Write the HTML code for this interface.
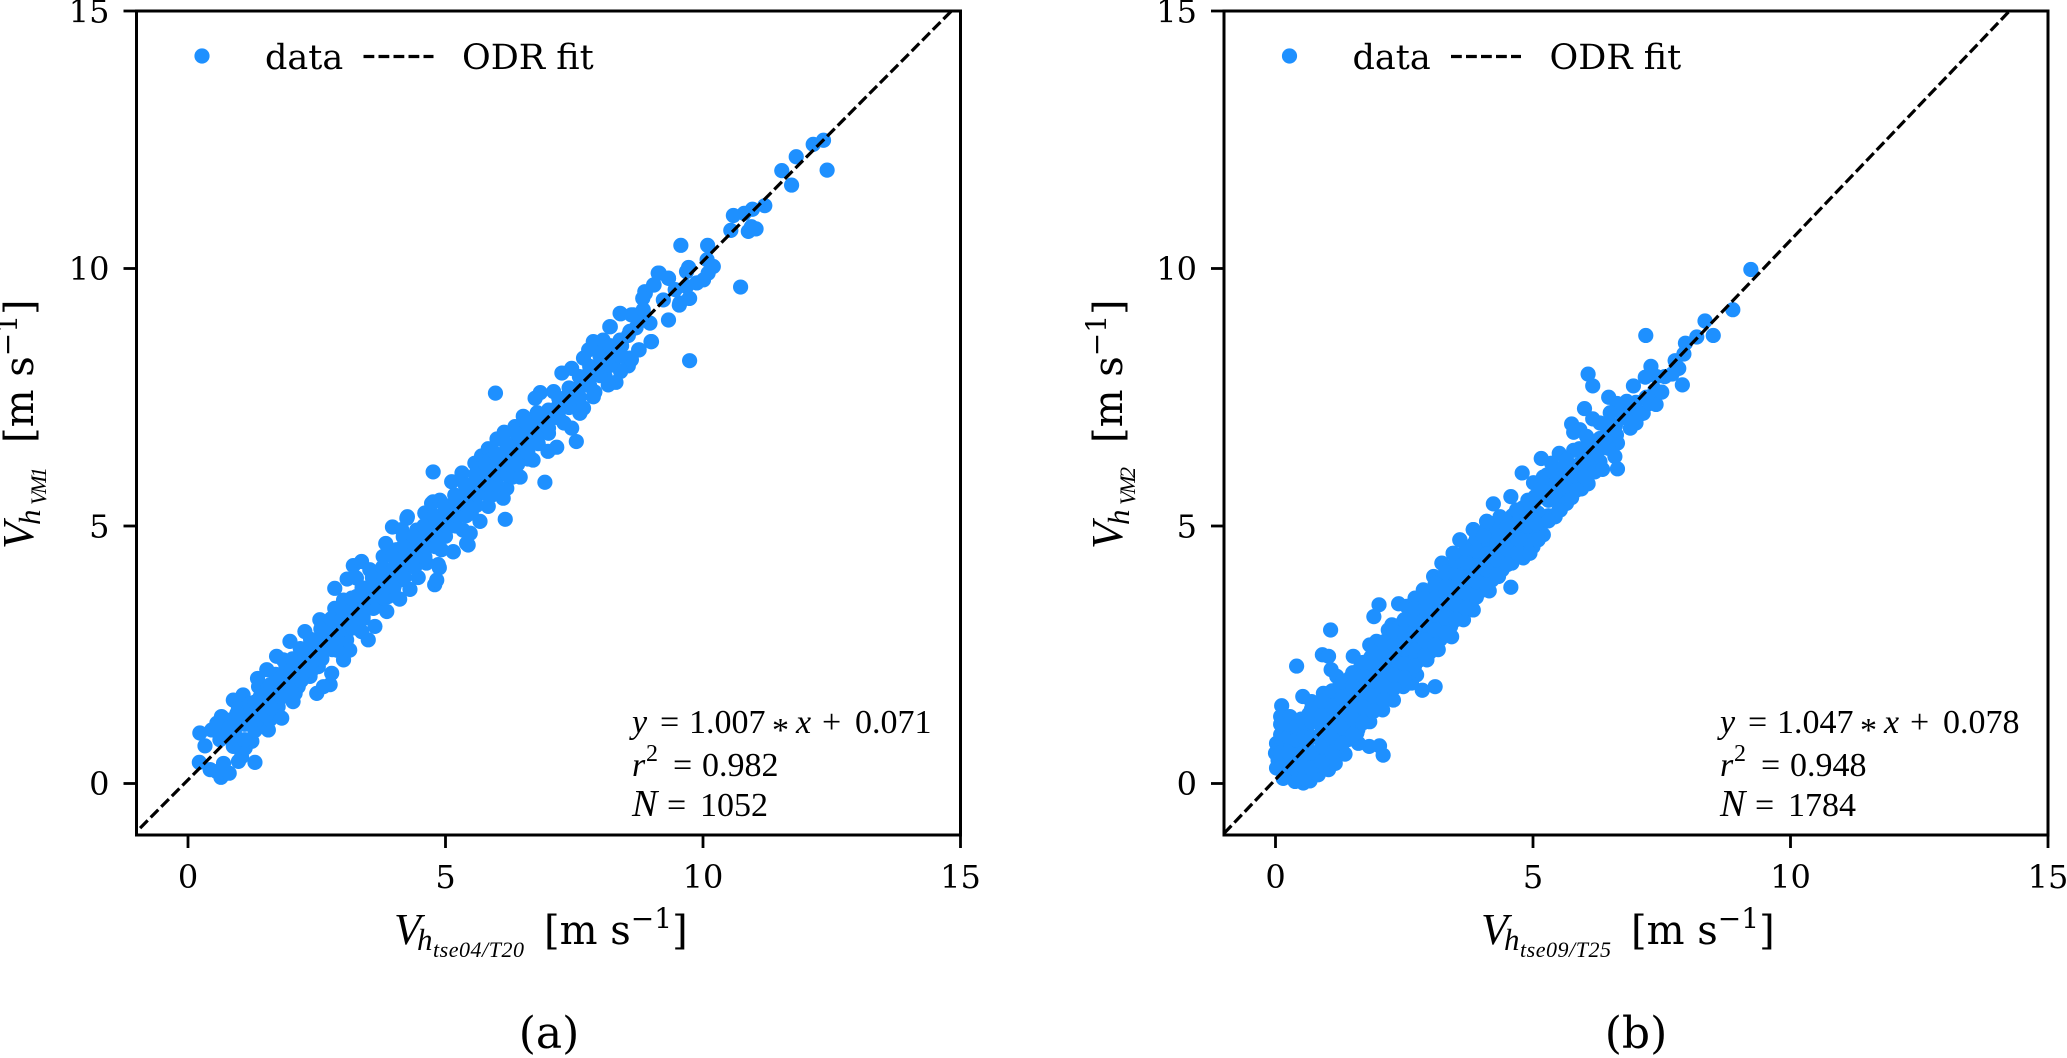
<!DOCTYPE html>
<html lang="en">
<head>
<meta charset="utf-8">
<title>ODR fit scatter comparison</title>
<style>
html,body{margin:0;padding:0;background:#fff;width:2067px;height:1058px;overflow:hidden}
svg{display:block}
text{fill:#000}
.dj{font-family:"DejaVu Serif",serif}
.ms{font-family:"Liberation Serif",serif}
.i{font-style:italic}
</style>
</head>
<body>
<svg id="chart" width="2067" height="1058" viewBox="0 0 2067 1058" xmlns="http://www.w3.org/2000/svg">
<defs>
<clipPath id="clip-a"><rect x="136.5" y="11" width="824" height="824"/></clipPath>
<clipPath id="clip-b"><rect x="1224" y="11" width="824" height="824"/></clipPath>
</defs>
<g id="panel-a"></g>
<g id="panel-b"></g>

<g>
<text class="ms i" x="394" y="944" font-size="44">V</text>
<text class="ms i" x="417" y="950" font-size="31">h</text>
<text class="ms i" x="433" y="957" font-size="22" textLength="91">tse04/T20</text>
<text class="dj" x="544" y="944" font-size="40">[m s<tspan font-size="28" dy="-16">−1</tspan><tspan dy="16">]</tspan></text>
</g>
<g>
<text class="ms i" x="1481" y="944" font-size="44">V</text>
<text class="ms i" x="1504" y="950" font-size="31">h</text>
<text class="ms i" x="1520" y="957" font-size="22" textLength="91">tse09/T25</text>
<text class="dj" x="1631" y="944" font-size="40">[m s<tspan font-size="28" dy="-16">−1</tspan><tspan dy="16">]</tspan></text>
</g>
<g transform="translate(33,0) rotate(-90)">
<text class="ms i" x="-549" y="0" font-size="44">V</text>
<text class="ms i" x="-525" y="7" font-size="31">h</text>
<text class="ms i" x="-505" y="13" font-size="22" textLength="38">VM1</text>
<text class="dj" x="-443" y="0" font-size="40">[m s<tspan font-size="28" dy="-16">−1</tspan><tspan dy="16">]</tspan></text>
</g>
<g transform="translate(1122,0) rotate(-90)">
<text class="ms i" x="-549" y="0" font-size="44">V</text>
<text class="ms i" x="-525" y="7" font-size="31">h</text>
<text class="ms i" x="-505" y="13" font-size="22" textLength="38">VM2</text>
<text class="dj" x="-443" y="0" font-size="40">[m s<tspan font-size="28" dy="-16">−1</tspan><tspan dy="16">]</tspan></text>
</g>

<g>
<circle cx="202" cy="56" r="7.6" fill="#1e90ff"/>
<text class="dj" x="265" y="69" font-size="35">data</text>
<line x1="363.5" x2="433.5" y1="56.5" y2="56.5" stroke="#000" stroke-width="3.2" stroke-dasharray="10.8 4.2"/>
<text class="dj" x="462" y="69" font-size="35">ODR fit</text>
</g>
<g>
<circle cx="1289.5" cy="56" r="7.6" fill="#1e90ff"/>
<text class="dj" x="1352.5" y="69" font-size="35">data</text>
<line x1="1451" x2="1521" y1="56.5" y2="56.5" stroke="#000" stroke-width="3.2" stroke-dasharray="10.8 4.2"/>
<text class="dj" x="1549.5" y="69" font-size="35">ODR fit</text>
</g>

<g class="ms" font-size="34">
<text y="733"><tspan class="i" x="632">y</tspan><tspan x="660">=</tspan><tspan x="689">1.007</tspan><tspan x="772" dy="8">*</tspan><tspan class="i" x="796" dy="-8">x</tspan><tspan x="822">+</tspan><tspan x="855">0.071</tspan></text>
<text y="776"><tspan class="i" x="632">r</tspan><tspan x="646" font-size="24" dy="-15">2</tspan><tspan x="673" dy="15">=</tspan><tspan x="702">0.982</tspan></text>
<text y="816"><tspan class="i" x="632" font-size="38">N</tspan><tspan x="667">=</tspan><tspan x="700">1052</tspan></text>
</g>
<g class="ms" font-size="34">
<text y="733"><tspan class="i" x="1720">y</tspan><tspan x="1748">=</tspan><tspan x="1777">1.047</tspan><tspan x="1860" dy="8">*</tspan><tspan class="i" x="1884" dy="-8">x</tspan><tspan x="1910">+</tspan><tspan x="1943">0.078</tspan></text>
<text y="776"><tspan class="i" x="1720">r</tspan><tspan x="1734" font-size="24" dy="-15">2</tspan><tspan x="1761" dy="15">=</tspan><tspan x="1790">0.948</tspan></text>
<text y="816"><tspan class="i" x="1720" font-size="38">N</tspan><tspan x="1755">=</tspan><tspan x="1788">1784</tspan></text>
</g>

<text class="dj" x="549" y="1048" font-size="44" text-anchor="middle">(a)</text>
<text class="dj" x="1636" y="1048" font-size="44" text-anchor="middle">(b)</text>
</svg>
<script>
const xTicks = [0, 5, 10, 15];
const yTicks = [0, 5, 10, 15];
const axisMin = -1;
const axisMax = 15;
const fitA = { slope: 1.007, intercept: 0.071, from: -0.93 };
const fitB = { slope: 1.047, intercept: 0.078, from: -1 };

const panelAPoints = [
[.23,.98],[.33,.73],[.22,.41],[.43,.27],[.56,.23],[.64,.12],[.80,.20],[.69,.39],[.98,.43],[1.30,.41],[1.04,.52],[1.11,.69],[.88,.72],[1.24,.82],[.46,1.04],[.65,1.30],[.56,1.17],[.88,1.62],[1.07,1.72],[.98,1.46],[.85,1.24],[1.04,1.30],[1.20,1.37],[1.40,1.11],[1.56,1.04],[1.59,1.24],[1.82,1.27],[1.75,1.49],[1.37,1.88],[1.53,2.21],[1.35,2.04],[1.46,1.62],[1.62,1.69],[1.79,1.85],[2.04,1.59],[2.08,1.75],[1.85,2.40],[1.98,2.76],[1.72,2.47],[1.88,2.14],[2.14,1.88],[2.27,2.95],[2.21,2.59],[2.50,1.75],[2.76,1.92],[2.63,1.88],[2.79,2.14],[2.53,2.27],[2.43,2.47],[2.37,2.08],[3.02,2.40],[3.14,2.59],[3.08,2.79],[2.89,2.59],[2.56,3.18],[2.72,2.92],[2.85,3.40],[2.85,3.79],[3.09,3.97],[3.02,3.56],[3.14,3.31],[3.27,3.63],[3.50,2.79],[3.37,2.95],[3.63,3.05],[3.40,3.24],[3.66,3.44],[3.86,3.34],[3.89,3.63],[3.53,3.82],[3.27,3.99],[3.21,4.23],[3.37,4.31],[3.53,4.15],[3.79,4.41],[3.84,4.66],[4.05,4.54],[3.86,4.02],[4.11,4.28],[4.11,3.95],[4.31,3.77],[4.11,3.58],[3.99,3.77],[4.47,4.00],[4.79,3.86],[4.83,3.95],[4.88,4.19],[4.63,4.28],[4.37,4.34],[4.18,4.79],[3.97,4.98],[4.26,5.18],[4.44,4.92],[4.34,4.60],[4.70,4.73],[4.60,5.25],[4.76,5.47],[5.02,5.38],[5.15,4.50],[4.92,4.54],[5.41,4.66],[5.34,4.92],[5.09,5.05],
[.62,.85],[.75,.95],[.9,1.0],[1.1,1.15],[1.2,1.55],[1.35,1.5],[1.5,1.5],[1.55,1.85],[1.7,1.95],[1.9,2.0],[2.0,2.2],[2.15,2.3],[2.3,2.4],[2.45,2.65],[2.6,2.8],[2.75,2.75],[2.9,3.0],[3.05,3.15],[3.2,3.35],[3.35,3.5],[3.5,3.55],[3.65,3.75],[3.8,3.9],[3.95,4.1],[4.1,4.2],[4.25,4.35],[4.4,4.5],[4.55,4.65],[4.7,5.0],[4.85,4.95],[5.0,5.1],[5.2,5.3],[5.35,5.45],
[4.25,5.15],[4.15,4.93],[4.60,5.25],[4.73,5.44],[4.89,5.50],[4.76,6.05],[5.12,5.86],[5.32,6.03],[5.57,6.22],[5.70,6.36],[5.83,6.50],[6.00,6.69],[6.14,6.82],[6.35,6.93],[6.51,7.13],[6.74,7.48],[6.84,7.59],[5.97,7.58],[7.10,7.61],[7.26,7.97],[7.45,8.06],[7.68,8.26],[7.78,8.42],[7.87,8.58],[8.20,8.87],[8.39,9.13],[8.61,9.10],[8.88,9.52],[9.04,9.68],[9.13,9.91],[9.33,9.81],[9.33,9.00],[9.00,8.58],[9.74,8.21],[8.75,8.42],[8.55,8.11],[8.58,8.26],[8.26,8.13],[8.31,7.79],[8.16,7.74],[7.87,7.51],[7.68,7.29],[7.61,7.19],[7.45,6.90],[7.54,6.64],[7.16,6.53],[6.99,6.45],[6.93,5.85],[6.70,6.28],[6.45,5.95],[6.19,5.73],[6.12,5.54],[5.83,5.38],[5.67,5.09],[6.16,5.13],[5.44,4.63],[5.15,4.50],[4.86,4.25],[5.48,4.86],[9.55,9.33],[9.74,9.42],[9.88,9.72],[9.68,9.94],
[4.5,4.7],[4.8,5.0],[5.0,5.1],[5.1,5.3],[5.25,5.4],[5.4,5.5],[5.55,5.7],[5.7,5.75],[5.85,6.0],[6.0,6.15],[6.15,6.3],[6.3,6.45],[6.45,6.6],[6.6,6.75],[6.75,6.85],[6.9,7.1],[7.05,7.2],[7.2,7.35],[7.35,7.5],[7.5,7.65],[7.65,7.75],[7.8,8.0],[7.95,8.1],[8.05,8.4],[8.1,8.2],[8.25,8.35],[8.4,8.55],[8.55,8.7],[8.7,8.85],[8.85,9.0],[5.4,5.8],[5.6,5.95],[5.9,6.3],[6.2,6.55],[6.5,6.8],[6.8,7.0],[5.1,5.0],[5.5,5.25],[5.9,5.6],[6.3,5.95],[6.6,6.3],[7.0,6.8],[7.3,7.0],[7.6,7.35],[7.9,7.6],[8.1,7.9],[8.4,8.0],
[12.34,12.49],[12.14,12.41],[11.81,12.17],[11.53,11.90],[11.72,11.62],[12.41,11.91],[11.20,11.22],[10.96,11.15],[10.80,11.07],[10.59,11.03],[10.54,10.74],[10.88,10.72],[10.94,10.81],[11.03,10.77],[9.57,10.45],[10.09,10.45],[10.08,10.17],[9.72,10.02],[10.20,10.04],[10.10,9.91],[10.01,9.78],[9.88,9.72],[9.68,9.65],[10.73,9.64],[9.73,9.42],[9.54,9.29],[9.15,9.91],[9.33,9.81],[9.05,9.68],[8.87,9.55],[8.83,9.42],[9.46,9.59],[9.23,9.39],[8.97,8.94],[8.65,9.10],[8.40,9.12],[8.84,9.20],[8.99,8.58],[8.76,8.42],[8.61,8.23],[8.19,8.87],[8.06,8.61],[8.39,8.61],[8.58,8.78],[8.29,8.42],[8.13,8.29],
[.7,.92],[.8,1.08],[.95,.86],[1.0,1.16],[1.1,.85],[.95,1.36],[1.22,1.2],[1.3,1.03],[1.32,1.25],[1.3,1.58],[1.42,1.41],[1.4,1.68],[1.52,1.32],[1.5,1.72],[1.62,1.46],[1.6,1.92],[1.7,1.58],[1.72,1.76],[1.7,2.12],[1.82,1.68],[1.8,2.05],[1.92,1.76],[1.9,2.3],[1.93,1.94],
[2.0,1.8],[2.02,2.02],[2.0,2.2],[2.03,2.42],[2.2,2.0],[2.22,2.2],[2.2,2.42],[2.18,2.62],[2.4,2.2],[2.42,2.38],[2.4,2.6],[2.38,2.8],[2.6,2.42],[2.62,2.6],[2.6,2.82],[2.58,3.0],[2.8,2.6],[2.82,2.8],[2.8,3.02],[2.78,3.2],[3.0,2.82],[3.02,3.0],[3.0,3.2],[2.98,3.42],[3.2,3.02],[3.22,3.2],[3.2,3.42],[3.18,3.6],[3.4,3.2],[3.42,3.4],[3.4,3.62],[3.38,3.8],[3.6,3.4],[3.62,3.6],[3.6,3.8],[3.58,4.0],[3.8,3.6],[3.82,3.8],[3.8,4.02],[3.78,4.2],[4.0,3.82],[4.02,4.0],[4.0,4.2],[3.98,4.42],[4.2,4.0],[4.22,4.22],[4.2,4.4],[4.18,4.6],[4.4,4.2],[4.42,4.4],[4.4,4.62],[4.38,4.8],[4.6,4.4],[4.62,4.6],[4.6,4.82],[4.58,5.0],[4.8,4.6],[4.82,4.8],[4.8,5.02],[4.78,5.2],[5.0,4.8],[5.02,5.0],[5.0,5.2],[4.98,5.4],[5.2,5.0],[5.22,5.2],[5.2,5.42],[5.18,5.6],[5.4,5.2],[5.42,5.4],[5.4,5.62],[5.38,5.8],[5.6,5.4],[5.62,5.6],[5.6,5.82],[5.58,6.0],[5.8,5.62],[5.82,5.8],[5.8,6.02],[5.78,6.2],[6.0,5.8],[6.02,6.0],[6.0,6.22],[5.98,6.4],[6.2,6.0],[6.22,6.2],[6.2,6.42],[6.18,6.6],[6.4,6.2],[6.42,6.4],[6.4,6.62],[6.38,6.8],[6.6,6.42],[6.62,6.6],[6.6,6.82],[6.58,7.0],[6.8,6.6],[6.82,6.8],[6.8,7.02],[6.78,7.2],[7.0,6.9],[7.02,7.05],[7.0,7.25],[7.2,7.1],[7.22,7.28],[7.2,7.48],[7.4,7.3],[7.42,7.48],[7.4,7.68],[7.6,7.5],[7.62,7.7],[7.6,7.9],[7.8,7.72],[7.82,7.9],[7.8,8.1],[8.0,7.92],[8.02,8.1],[8.0,8.3],[8.2,8.12],[8.22,8.3],[8.2,8.5],[8.4,8.3],[8.42,8.5]
];

const panelBPoints = [
[.12,1.51],[.10,1.30],[.28,1.30],[.53,1.69],[.41,2.28],[1.07,2.98],[.91,2.50],[1.03,2.47],[1.08,2.21],[1.51,2.47],[1.91,3.24],[2.01,3.47],[2.39,3.49],[2.55,3.44],[2.71,3.60],[2.87,3.76],[3.07,4.02],[3.23,4.28],[3.45,4.47],[3.58,4.73],[3.84,4.93],[4.10,5.09],[1.83,2.69],[1.96,2.76],[2.26,3.08],[2.19,2.98],[.93,1.75],[1.19,2.08],[.70,1.59],[3.10,1.88],[2.85,1.81],[2.64,1.95],[2.74,2.11],[2.94,2.40],[3.16,2.60],[3.42,2.85],[3.65,3.18],[3.84,3.37],[4.15,3.74],[4.57,3.81],[4.33,4.02],[4.59,4.28],[4.81,4.38],[5.00,4.60],[5.10,4.83],[2.09,.55],[2.02,.73],[1.82,.72],[1.61,.78],[1.35,.57],[1.83,1.20],[2.08,1.43],[2.29,1.62],[2.48,1.88],[.02,.78],[0,.59],[.02,.30],[.15,.10],[.38,.04],[.54,.01],[.67,.05],[.83,.17],[1.03,.27],[1.16,.39],[1.58,.98],
[.05,.45],[.05,.65],[.15,.3],[.15,.55],[.15,.85],[.2,1.05],[.3,.2],[.3,.45],[.3,.75],[.3,1.0],[.35,1.2],[.45,.15],[.45,.4],[.45,.7],[.45,.95],[.5,1.25],[.6,.2],[.6,.45],[.6,.75],[.6,1.05],[.65,1.35],[.8,.35],[.8,.6],[.8,.9],[.8,1.2],[.85,1.5],[1.0,.5],[1.0,.8],[1.0,1.1],[1.0,1.4],[1.05,1.7],[1.2,.7],[1.2,1.0],[1.2,1.3],[1.2,1.6],[1.25,1.9],[1.4,.85],[1.4,1.15],[1.4,1.5],[1.4,1.8],[1.45,2.05],[1.6,1.05],[1.6,1.35],[1.6,1.7],[1.6,2.0],[1.65,2.25],[1.8,1.3],[1.8,1.6],[1.8,1.9],[1.8,2.2],[1.85,2.45],[2.0,1.5],[2.0,1.8],[2.0,2.1],[2.0,2.4],[2.05,2.65],[2.2,1.75],[2.2,2.0],[2.2,2.3],[2.2,2.6],[2.25,2.85],[2.4,1.95],[2.4,2.2],[2.4,2.5],[2.4,2.8],[2.45,3.1],[2.6,2.15],[2.6,2.45],[2.6,2.75],[2.6,3.05],[2.65,3.25],[2.8,2.4],[2.8,2.7],[2.8,3.0],[2.8,3.3],[3.0,2.55],[3.0,2.85],[3.0,3.15],[3.0,3.5],[3.05,3.75],[3.2,2.8],[3.2,3.1],[3.2,3.4],[3.2,3.7],[3.25,4.0],[3.4,3.05],[3.4,3.35],[3.4,3.65],[3.4,3.95],[3.45,4.2],[3.6,3.3],[3.6,3.6],[3.6,3.9],[3.6,4.2],[3.65,4.45],[3.8,3.5],[3.8,3.8],[3.8,4.1],[3.8,4.4],[3.85,4.65],[4.0,3.75],[4.0,4.05],[4.0,4.35],[4.0,4.65],[4.05,4.85],[4.2,3.95],[4.2,4.25],[4.2,4.55],[4.2,4.85],[4.25,5.05],[4.4,4.15],[4.4,4.45],[4.4,4.75],[4.4,5.05],[4.6,4.35],[4.6,4.65],[4.6,4.95],[4.6,5.2],[4.8,4.6],[4.8,4.85],[4.8,5.15],[4.8,5.35],[5.0,4.85],[5.0,5.1],[5.0,5.4],
[.1,.3],[.1,.6],[.1,.95],[.1,1.15],[.25,.3],[.25,.6],[.25,.9],[.25,1.15],[.4,.28],[.4,.55],[.4,.85],[.4,1.1],[.55,.1],[.55,.32],[.55,.6],[.55,.9],[.55,1.2],[.7,.3],[.7,.6],[.7,.9],[.7,1.2],[.7,1.45],[.9,.42],[.9,.72],[.9,1.02],[.9,1.32],[.9,1.6],[1.1,.6],[1.1,.9],[1.1,1.2],[1.1,1.5],[1.1,1.8],[1.3,.78],[1.3,1.08],[1.3,1.38],[1.3,1.68],[1.3,1.98],[1.5,.95],[1.5,1.25],[1.5,1.6],[1.5,1.9],[1.5,2.15],[1.7,1.18],[1.7,1.48],[1.7,1.78],[1.7,2.1],[1.7,2.35],[1.9,1.4],[1.9,1.7],[1.9,2.0],[1.9,2.3],[1.9,2.55],[2.1,1.62],[2.1,1.9],[2.1,2.2],[2.1,2.5],[2.1,2.75],[2.3,1.85],[2.3,2.1],[2.3,2.4],[2.3,2.7],[2.3,2.95],[2.5,2.05],[2.5,2.33],[2.5,2.62],[2.5,2.92],[2.5,3.18],[2.7,2.28],[2.7,2.58],[2.7,2.88],[2.7,3.18],[2.7,3.4],[2.9,2.48],[2.9,2.78],[2.9,3.08],[2.9,3.4],[2.9,3.6],[3.1,2.68],[3.1,2.98],[3.1,3.28],[3.1,3.6],[3.1,3.88],[3.3,2.92],[3.3,3.22],[3.3,3.52],[3.3,3.82],[3.3,4.1],[3.5,3.18],[3.5,3.48],[3.5,3.78],[3.5,4.08],[3.5,4.32],[3.7,3.4],[3.7,3.7],[3.7,4.0],[3.7,4.3],[3.7,4.55],[3.9,3.62],[3.9,3.92],[3.9,4.22],[3.9,4.52],[3.9,4.75],[4.1,3.85],[4.1,4.15],[4.1,4.45],[4.1,4.75],[4.1,4.95],[4.3,4.05],[4.3,4.35],[4.3,4.65],[4.3,4.95],[4.5,4.25],[4.5,4.55],[4.5,4.85],[4.5,5.12],[4.7,4.48],[4.7,4.75],[4.7,5.05],[4.7,5.28],[4.9,4.72],[4.9,5.0],[4.9,5.28],[4.9,5.5],[5.1,5.0],[5.1,5.25],[5.1,5.55],[5.1,5.8],[5.3,5.2],[5.3,5.5],[5.3,5.8],[5.5,5.5],[5.5,5.75],[5.7,5.6],[5.7,5.95],[5.7,6.2],[5.9,5.85],[5.9,6.2],[5.9,6.5],[6.1,6.4],[6.1,6.6],[6.3,6.5],[6.3,6.25],
[8.88,9.20],[8.34,8.98],[8.18,8.67],[8.50,8.70],[7.19,8.70],[7.96,8.55],[7.93,8.34],[7.76,8.21],[7.83,8.06],[7.90,7.74],[7.29,8.10],[7.18,7.89],[7.56,7.90],[7.40,7.90],[6.07,7.95],[6.16,7.72],[6.95,7.72],[6.47,7.50],[7.37,7.64],[7.39,7.36],[7.14,7.19],[7.27,7.38],[6.82,7.42],[6.63,7.38],[6.50,7.20],[6.00,7.28],[6.16,7.08],[6.89,6.90],[6.89,7.22],[6.40,6.96],[5.75,6.98],[5.79,6.82],[5.91,6.87],[6.62,6.77],[6.64,6.61],[6.59,6.35],[6.64,6.11],[6.46,6.51],[6.24,6.32],[6.04,6.74],[6.04,6.48],[5.79,6.47],[5.51,6.41],[5.16,6.31],[5.36,6.22],[5.65,6.28],[6.11,6.15],[5.91,6.03],[6.07,5.82],[5.94,5.72],[5.27,5.99],[4.79,6.03],[5.01,5.84],[5.04,5.57],[5.14,5.70],[5.53,6.03],[5.65,5.73],[5.39,5.83],[5.65,5.44],[5.53,5.31],[5.43,5.18],[5.43,5.64],[4.57,5.57],[4.23,5.43],[4.68,5.31],[4.36,5.18],[4.10,5.09],[3.84,4.93],[3.58,4.73],[3.45,4.47],[4.04,4.80],[5.20,4.83],[5.10,4.73],[4.94,4.47],[5.07,5.05],[4.88,5.18],[4.49,4.99],[4.30,4.67],[4.75,4.73],[6.3,6.7],[6.0,6.35],[5.75,6.1],[6.55,6.85],[6.75,7.15],[7.0,7.4],[7.05,7.15],[9.23,9.98],
[5.2,5.95],[5.4,6.05],[5.6,6.15],[5.3,5.1],[5.5,5.3],[5.75,5.55],[5.85,5.7],[6.0,5.95],[6.2,6.05],[6.35,6.1],[6.4,6.7],[6.6,6.95],[6.3,7.0],[6.8,7.1],[7.0,7.0],[7.2,7.5],[7.5,7.6],[7.7,7.95]
];

const NS = 'http://www.w3.org/2000/svg';
const plotSize = 824;
const plotTop = 11;
const plotBottom = plotTop + plotSize;

function make(tag, attrs, parent) {
  const el = document.createElementNS(NS, tag);
  for (const k in attrs) el.setAttribute(k, attrs[k]);
  parent.appendChild(el);
  return el;
}

function drawPanel(groupId, plotLeft, clipId, points, fit) {
  const g = document.getElementById(groupId);
  const sx = v => plotLeft + (v - axisMin) / (axisMax - axisMin) * plotSize;
  const sy = v => plotBottom - (v - axisMin) / (axisMax - axisMin) * plotSize;

  const markers = make('g', { 'clip-path': 'url(#' + clipId + ')' }, g);
  
  
  points.forEach(p => {
    const c = make('circle', { cx: sx(p[0]), cy: sy(p[1]), r: 7.6, fill: '#1e90ff' }, markers);
    
    
  });

  const toX = (axisMax - fit.intercept) / fit.slope;
  const fitLine = make('line', {
    x1: sx(fit.from), y1: sy(fit.slope * fit.from + fit.intercept),
    x2: sx(toX), y2: sy(axisMax),
    stroke: '#000', 'stroke-width': 3.2, 'stroke-dasharray': '10.8 4.2',
    'clip-path': 'url(#' + clipId + ')'
  }, g);
  
  

  const frame = make('rect', {
    x: plotLeft, y: plotTop, width: plotSize, height: plotSize,
    fill: 'none', stroke: '#000', 'stroke-width': 3
  }, g);
  
  

  xTicks.forEach(t => {
    const mark = make('line', { x1: sx(t), x2: sx(t), y1: plotBottom, y2: plotBottom + 13, stroke: '#000', 'stroke-width': 2.8 }, g);
    
    
    const label = make('text', { x: sx(t), y: 888, 'text-anchor': 'middle', 'font-size': 32, class: 'dj' }, g);
    
    
    label.textContent = t;
  });
  yTicks.forEach(t => {
    const mark = make('line', { x1: plotLeft - 13, x2: plotLeft, y1: sy(t), y2: sy(t), stroke: '#000', 'stroke-width': 2.8 }, g);
    
    
    const label = make('text', { x: plotLeft - 27, y: sy(t) + 11.5, 'text-anchor': 'end', 'font-size': 32, class: 'dj' }, g);
    
    
    label.textContent = t;
  });
}

drawPanel('panel-a', 136.5, 'clip-a', panelAPoints, fitA);
drawPanel('panel-b', 1224, 'clip-b', panelBPoints, fitB);
</script>
</body>
</html>
